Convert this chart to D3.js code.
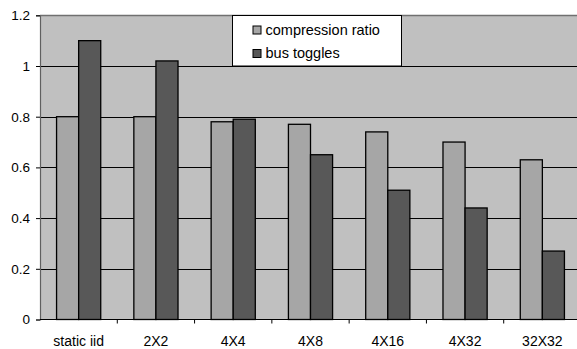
<!DOCTYPE html>
<html>
<head>
<meta charset="utf-8">
<script src="https://cdn.jsdelivr.net/npm/d3@7"></script>
<style>
  html, body { margin: 0; padding: 0; background: #fff; }
  svg { display: block; }
  text { font-family: "Liberation Sans", Arial, sans-serif; fill: #000; }
</style>
</head>
<body>
<svg id="chart" width="577" height="349"></svg>
<script>
const categories = ["static iid", "2X2", "4X4", "4X8", "4X16", "4X32", "32X32"];
const seriesNames = ["compression ratio", "bus toggles"];
const compressionRatio = [0.80, 0.80, 0.78, 0.77, 0.74, 0.70, 0.63];
const busToggles = [1.10, 1.02, 0.79, 0.65, 0.51, 0.44, 0.27];
const yTicks = [0, 0.2, 0.4, 0.6, 0.8, 1, 1.2];
const colors = ["#a6a6a6", "#585858"];

const series = [compressionRatio, busToggles];
const svg = d3.select("#chart");

const plot = { left: 40, right: 581, top: 15.3, bottom: 319.5 };

const x = d3.scaleBand().domain(categories).range([plot.left, plot.right]).paddingInner(0).paddingOuter(0);
const y = d3.scaleLinear().domain([0, 1.2]).range([plot.bottom, plot.top]);
// each category holds two bars with a 150% gap between groups
const barW = x.bandwidth() / 3.5;

// plot background
svg.append("rect")
  .attr("x", plot.left).attr("y", plot.top)
  .attr("width", plot.right - plot.left).attr("height", plot.bottom - plot.top)
  .attr("fill", "#c0c0c0");

// gridlines
svg.append("g").selectAll("line")
  .data(yTicks.filter(t => t > 0))
  .join("line")
  .attr("x1", plot.left).attr("x2", plot.right)
  .attr("y1", d => Math.round(y(d)) + 0.5).attr("y2", d => Math.round(y(d)) + 0.5)
  .attr("stroke", d => d === 1.2 ? "#707070" : "#000")
  .attr("stroke-width", d => d === 1.2 ? 1.5 : 1);

// bars
const groups = svg.append("g").selectAll("g")
  .data(categories)
  .join("g")
  .attr("transform", d => `translate(${x(d) + x.bandwidth() / 2 - barW},0)`);

groups.selectAll("rect")
  .data((d, i) => series.map((s, k) => ({ v: s[i], k })))
  .join("rect")
  .attr("x", d => d.k * barW)
  .attr("y", d => y(d.v))
  .attr("width", barW)
  .attr("height", d => y(0) - y(d.v))
  .attr("fill", d => colors[d.k])
  .attr("stroke", "#000")
  .attr("stroke-width", 1.3);

// y axis
const yAxis = d3.axisLeft(y).tickValues(yTicks).tickSize(4).tickPadding(6)
  .tickFormat(d => d3.format("")(+d.toFixed(1)));
const ya = svg.append("g").attr("transform", `translate(${plot.left},0)`).call(yAxis);
ya.select(".domain").attr("stroke", "#606060").attr("stroke-width", 1.2);
ya.selectAll(".tick line").attr("stroke", "#000");
ya.selectAll(".tick text").attr("font-size", 13.5).attr("fill", "#000")
  .attr("font-family", "Liberation Sans, Arial, sans-serif");

// x axis baseline and category boundary ticks
svg.append("line")
  .attr("x1", plot.left).attr("x2", plot.right)
  .attr("y1", plot.bottom).attr("y2", plot.bottom)
  .attr("stroke", "#000").attr("stroke-width", 1.2);

svg.append("g").selectAll("line")
  .data(categories.slice(1))
  .join("line")
  .attr("x1", d => x(d)).attr("x2", d => x(d))
  .attr("y1", plot.bottom).attr("y2", plot.bottom + 4)
  .attr("stroke", "#000");

svg.append("g").selectAll("text")
  .data(categories)
  .join("text")
  .attr("x", d => x(d) + x.bandwidth() / 2)
  .attr("y", 346)
  .attr("text-anchor", "middle")
  .attr("font-size", 14)
  .text(d => d);

// legend
const legend = svg.append("g");
legend.append("rect")
  .attr("x", 232.5).attr("y", 15.5).attr("width", 169).attr("height", 50.5)
  .attr("fill", "#fff").attr("stroke", "#000").attr("stroke-width", 1);

const items = legend.selectAll("g.item")
  .data(seriesNames)
  .join("g")
  .attr("class", "item")
  .attr("transform", (d, i) => `translate(253,${26 + i * 23.5})`);

items.append("rect")
  .attr("width", 8).attr("height", 8)
  .attr("fill", (d, i) => colors[i])
  .attr("stroke", "#000").attr("stroke-width", 1);

items.append("text")
  .attr("x", 12.5).attr("y", 8.8)
  .attr("font-size", 14.5)
  .text(d => d);
</script>
</body>
</html>
